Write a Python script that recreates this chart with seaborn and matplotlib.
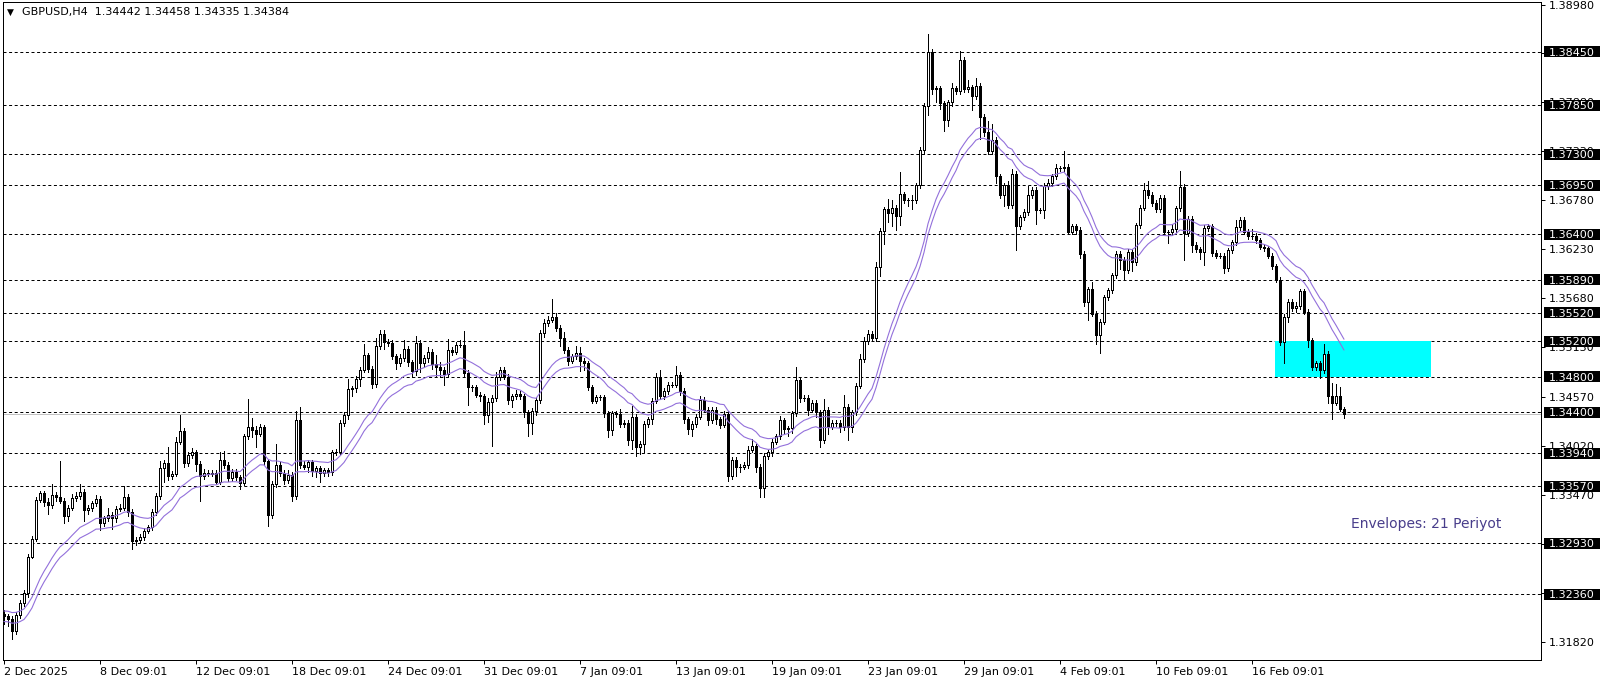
import numpy as np
import pandas as pd
import matplotlib
matplotlib.use("Agg")
import matplotlib.pyplot as plt
import matplotlib.transforms as mtransforms
from matplotlib.patches import Rectangle
import seaborn as sns

# --- data (prices in pips above 1.3000) ---
symbol = "GBPUSD,H4"
last_ohlc = "1.34442 1.34458 1.34335 1.34384"
first_open = 213.0

closes = [
    211, 208, 194, 212, 226, 237, 278, 298, 342, 349, 339, 336,
    347, 345, 341, 324, 333, 344, 346, 350, 330, 333, 338, 343,
    316, 321, 325, 321, 332, 333, 345, 328, 295, 297, 300, 307,
    311, 328, 346, 377, 383, 368, 371, 407, 419, 383, 392, 395,
    382, 368, 372, 371, 372, 362, 387, 381, 366, 373, 367, 361,
    413, 424, 420, 416, 423, 385, 325, 360, 381, 372, 364, 370,
    346, 431, 381, 379, 384, 374, 377, 372, 375, 373, 395, 396,
    428, 437, 466, 467, 478, 488, 504, 489, 472, 515, 528, 519,
    518, 503, 495, 501, 511, 496, 486, 518, 495, 501, 508, 494,
    491, 488, 483, 510, 508, 516, 516, 484, 468, 468, 460, 458,
    437, 452, 456, 480, 488, 480, 454, 458, 461, 458, 440, 428,
    442, 454, 529, 540, 544, 547, 535, 523, 510, 498, 503, 507,
    498, 495, 468, 453, 457, 457, 439, 420, 439, 438, 427, 428,
    409, 435, 401, 405, 427, 432, 453, 480, 458, 464, 471, 471,
    482, 464, 432, 421, 427, 435, 454, 443, 431, 443, 432, 426,
    438, 368, 387, 379, 379, 381, 398, 402, 379, 355, 391, 395,
    407, 413, 431, 421, 422, 439, 476, 456, 456, 443, 451, 440,
    409, 443, 424, 428, 428, 424, 446, 424, 440, 470, 500, 520,
    528, 523, 603, 644, 668, 664, 670, 660, 685, 678, 678, 678,
    695, 735, 784, 845, 803, 804, 787, 768, 788, 804, 801, 836,
    803, 805, 795, 807, 772, 755, 733, 746, 705, 684, 695, 673,
    708, 649, 659, 665, 684, 690, 667, 667, 694, 697, 705, 714,
    714, 716, 643, 649, 645, 618, 564, 578, 551, 527, 542, 569,
    577, 594, 618, 611, 600, 620, 609, 650, 670, 690, 684, 675,
    668, 681, 642, 642, 646, 669, 693, 641, 657, 628, 623, 620,
    647, 649, 619, 616, 616, 602, 622, 631, 648, 656, 643, 638,
    638, 633, 626, 624, 616, 604, 589, 519, 547, 564, 557, 559,
    576, 553, 521, 491, 495, 487, 506, 458, 451, 458, 444.2, 438.4,
]

upper_wick = [
    5, 3, 3, 4, 3, 3, 3, 3, 3, 3, 3, 5,
    12, 4, 40, 3, 3, 4, 5, 10, 4, 3, 3, 4,
    3, 3, 8, 3, 3, 4, 12, 3, 3, 3, 3, 3,
    3, 3, 3, 8, 3, 18, 3, 5, 18, 3, 3, 5,
    3, 3, 4, 3, 3, 3, 8, 10, 3, 3, 3, 3,
    3, 31, 10, 5, 4, 3, 3, 3, 24, 3, 3, 5,
    3, 10, 15, 4, 3, 3, 3, 3, 3, 3, 3, 3,
    3, 3, 12, 3, 3, 3, 13, 3, 3, 8, 5, 5,
    3, 3, 3, 4, 10, 3, 3, 8, 3, 3, 5, 3,
    10, 5, 3, 12, 3, 3, 5, 15, 3, 3, 3, 3,
    3, 4, 3, 5, 3, 3, 3, 3, 4, 3, 3, 3,
    3, 3, 3, 5, 4, 20, 5, 3, 7, 3, 3, 8,
    6, 3, 3, 3, 3, 3, 3, 3, 3, 3, 6, 3,
    3, 12, 3, 3, 3, 3, 3, 4, 8, 3, 3, 3,
    10, 3, 3, 3, 3, 3, 4, 3, 3, 3, 3, 3,
    3, 3, 3, 3, 3, 3, 4, 8, 3, 3, 3, 3,
    3, 3, 5, 3, 3, 3, 15, 3, 3, 3, 3, 3,
    3, 12, 3, 3, 3, 3, 14, 3, 3, 3, 6, 5,
    4, 3, 6, 3, 3, 12, 8, 3, 25, 3, 3, 6,
    3, 3, 3, 20, 3, 3, 3, 3, 3, 6, 3, 10,
    3, 8, 3, 8, 3, 3, 12, 18, 3, 3, 3, 5,
    5, 3, 3, 3, 10, 3, 3, 3, 3, 5, 3, 5,
    3, 17, 3, 3, 3, 3, 3, 3, 8, 3, 3, 3,
    3, 3, 3, 3, 3, 3, 3, 3, 3, 8, 10, 3,
    3, 3, 3, 3, 5, 3, 18, 3, 3, 3, 3, 3,
    3, 3, 3, 3, 3, 3, 3, 3, 8, 3, 3, 3,
    8, 3, 3, 3, 3, 3, 3, 3, 3, 3, 3, 5,
    3, 3, 3, 3, 3, 3, 11, 3, 15, 14, 10, 1.6,
]

lower_wick = [
    9, 8, 8, 3, 3, 3, 4, 2, 2, 3, 4, 10,
    3, 4, 3, 8, 6, 3, 3, 3, 12, 4, 4, 3,
    8, 4, 3, 12, 4, 3, 3, 4, 9, 4, 3, 3,
    3, 3, 3, 3, 15, 4, 3, 3, 3, 4, 3, 3,
    8, 27, 3, 3, 3, 3, 3, 3, 3, 3, 3, 7,
    3, 3, 8, 15, 3, 4, 13, 4, 4, 4, 5, 3,
    6, 3, 4, 3, 6, 5, 7, 10, 4, 5, 3, 3,
    3, 3, 4, 8, 4, 8, 3, 4, 5, 3, 4, 8,
    3, 3, 6, 3, 3, 4, 6, 4, 10, 4, 4, 5,
    10, 8, 12, 3, 4, 3, 3, 3, 20, 4, 3, 5,
    10, 8, 50, 3, 4, 3, 5, 8, 3, 3, 5, 15,
    12, 5, 3, 4, 3, 3, 4, 8, 3, 5, 3, 3,
    12, 8, 3, 3, 3, 3, 4, 8, 5, 3, 4, 4,
    6, 10, 10, 8, 10, 3, 5, 3, 3, 3, 3, 3,
    3, 4, 4, 5, 8, 4, 3, 3, 5, 3, 5, 4,
    3, 5, 3, 10, 6, 3, 4, 3, 6, 10, 10, 3,
    4, 3, 3, 5, 8, 5, 3, 4, 3, 6, 3, 5,
    8, 3, 8, 3, 3, 6, 4, 15, 6, 3, 3, 3,
    3, 3, 3, 10, 15, 10, 15, 15, 10, 3, 6, 10,
    3, 3, 5, 10, 5, 15, 6, 12, 6, 4, 4, 3,
    3, 3, 16, 3, 25, 5, 3, 3, 8, 3, 12, 3,
    3, 27, 3, 3, 3, 3, 16, 3, 9, 3, 3, 3,
    3, 3, 3, 3, 5, 5, 5, 20, 3, 10, 20, 3,
    3, 3, 3, 10, 10, 3, 10, 3, 3, 3, 3, 3,
    3, 3, 3, 12, 3, 3, 3, 30, 3, 8, 3, 8,
    15, 3, 3, 3, 3, 5, 3, 3, 3, 3, 3, 3,
    3, 3, 3, 3, 3, 3, 3, 3, 24, 5, 3, 4,
    3, 3, 8, 3, 3, 8, 3, 8, 18, 3, 3, 4.9,
]

levels = [1.38450, 1.37850, 1.37300, 1.36950, 1.36400, 1.35890, 1.35520,
          1.35200, 1.34800, 1.34400, 1.33940, 1.33570, 1.32930, 1.32360]
axis_ticks = [1.38980, 1.38430, 1.37880, 1.37330, 1.36780, 1.36230, 1.35680,
              1.35130, 1.34570, 1.34020, 1.33470, 1.32920, 1.32370, 1.31820]
date_ticks = [0, 24, 48, 72, 96, 120, 144, 168, 192, 216, 240, 264, 288, 312]
date_labels = ["2 Dec 2025", "8 Dec 09:01", "12 Dec 09:01", "18 Dec 09:01",
               "24 Dec 09:01", "31 Dec 09:01", "7 Jan 09:01", "13 Jan 09:01",
               "19 Jan 09:01", "23 Jan 09:01", "29 Jan 09:01", "4 Feb 09:01",
               "10 Feb 09:01", "16 Feb 09:01"]
bid = 1.34384
env_period = 21
env_dev = 0.045  # percent
zone_lo, zone_hi = 1.34800, 1.35200
zone_start, zone_end = 317.75, 356.75

# --- build OHLC frame ---
df = pd.DataFrame({"close": 1.3 + np.array(closes, dtype=float) / 10000})
df["open"] = df["close"].shift(1).fillna(1.3 + first_open / 10000)
df["high"] = np.maximum(df["open"], df["close"]) + np.array(upper_wick) / 10000
df["low"] = np.minimum(df["open"], df["close"]) - np.array(lower_wick) / 10000
df["i"] = np.arange(len(df))
ma = df["close"].ewm(span=env_period, adjust=False).mean()
df["upper"] = ma * (1 + env_dev / 100)
df["lower"] = ma * (1 - env_dev / 100)

sns.set_theme(style="white")
plt.rcParams["font.family"] = ["DejaVu Sans"]

fig = plt.figure(figsize=(16.06, 6.84), dpi=100)
ax = fig.add_axes([3 / 1606, 24 / 684, 1538 / 1606, 658 / 684])
px = 0.72  # one pixel in points

for lv in levels:
    ax.axhline(lv, color="black", lw=px, ls=(0, (3, 2.6)), zorder=1)
ax.axhline(bid, color="#C0C0C0", lw=px, zorder=1.1)
ax.add_patch(Rectangle((zone_start, zone_lo), zone_end - zone_start, zone_hi - zone_lo,
                       facecolor="#00FFFF", edgecolor="none", zorder=1.5))

# candles
ax.vlines(df["i"], df["low"], df["high"], color="black", lw=px, zorder=2, antialiased=False)
bull = df[df["close"] >= df["open"]]
bear = df[df["close"] < df["open"]]
ax.bar(bull["i"], bull["close"] - bull["open"], bottom=bull["open"], width=0.5,
       facecolor="white", edgecolor="black", lw=px, zorder=2.1, antialiased=False)
ax.bar(bear["i"], bear["open"] - bear["close"], bottom=bear["close"], width=0.5,
       facecolor="black", edgecolor="black", lw=px, zorder=2.1, antialiased=False)

# envelopes
sns.lineplot(data=df, x="i", y="upper", color="#9370DB", lw=0.8, ax=ax, zorder=3)
sns.lineplot(data=df, x="i", y="lower", color="#9370DB", lw=0.8, ax=ax, zorder=3)

ax.set_xlim(-0.25, 384.25)
ax.set_ylim(1.316190, 1.390081)
ax.set_xlabel("")
ax.set_ylabel("")

# right price axis
ax.yaxis.tick_right()
ax.set_yticks(axis_ticks)
ax.set_yticklabels([f"{t:.5f}" for t in axis_ticks])
ax.tick_params(axis="y", right=True, length=2.9, width=px, pad=2.9, labelsize=8,
               colors="black")
trans = mtransforms.blended_transform_factory(ax.transAxes, ax.transData)
box_h = 11 / 8905
for lv in levels:
    ax.add_patch(Rectangle((1.00195, lv - box_h / 2), 0.0364, box_h, transform=trans,
                           facecolor="black", edgecolor="none", clip_on=False, zorder=5))
    ax.text(1.0052, lv, f"{lv:.5f}", transform=trans, color="white", fontsize=8,
            ha="left", va="center_baseline", clip_on=False, zorder=6)

# time axis
ax.set_xticks(date_ticks)
ax.set_xticklabels(date_labels)
for lbl in ax.get_xticklabels():
    lbl.set_horizontalalignment("left")
ax.tick_params(axis="x", bottom=True, length=2.9, width=px, pad=2, labelsize=8,
               colors="black")

for sp in ax.spines.values():
    sp.set_color("black")
    sp.set_linewidth(px)

fig.text(7 / 1606, 1 - 12.5 / 684, "\u25bc", fontsize=6.5, color="black", va="center")
fig.text(22 / 1606, 1 - 12.5 / 684, f"{symbol}  {last_ohlc}", fontsize=8,
         color="black", va="center")
fig.text(1501 / 1606, 1 - 524 / 684, f"Envelopes: {env_period} Periyot", fontsize=10,
         color="#483D8B", ha="right", va="center")

fig.savefig("out.png", dpi=100)
